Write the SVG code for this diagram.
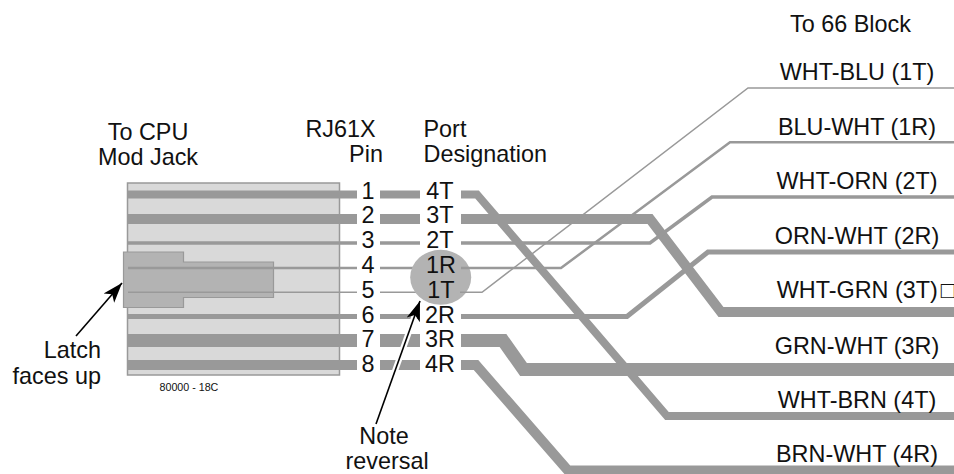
<svg xmlns="http://www.w3.org/2000/svg" width="954" height="474" viewBox="0 0 954 474">
<style>
text{font-family:"Liberation Sans",Arial,sans-serif;font-size:23.4px;fill:#111}
.m{text-anchor:middle}
.w{fill:none;stroke:#999;stroke-linejoin:miter}
</style>
<defs>
<marker id="ah" markerUnits="userSpaceOnUse" markerWidth="22" markerHeight="20" refX="20" refY="9" orient="auto"><path d="M0 2L20 9L0 16L5 9Z" fill="#000"/></marker>
</defs>
<rect width="954" height="474" fill="#fff"/>
<g id="jack">
<rect x="127.5" y="183" width="212" height="192" fill="#d9d9d9" stroke="#999" stroke-width="1.5"/>
<path d="M123.5 252H183.5V262H273.5V297.5H183.5V307.5H123.5Z" fill="#b3b3b3" stroke="#999" stroke-width="1.2"/>
<text x="159.5" y="391" style="font-size:10.7px">80000 - 18C</text>
</g>
<g id="connectors">
<path class="w" stroke-width="8" d="M128 194.5H357M380 194.5H420M461 194.5H477L667 416H954"/>
<path class="w" stroke-width="10" d="M128 219H357M380 219H420M461 219H650L721 312H954"/>
<path class="w" stroke-width="3.5" d="M128 243H357M380 243H420M461 243H650L712 197H954"/>
<path class="w" stroke-width="2.5" d="M128 268H357M380 268H420"/>
<path class="w" stroke-width="1.5" d="M128 292.3H357M380 292.3H420"/>
<path class="w" stroke-width="5" d="M128 316.5H357M380 316.5H420M461 316.5H627L708 252H954"/>
<path class="w" stroke-width="13" d="M128 340.5H357M380 340.5H420M461 340.5H503L523.5 369.5H954"/>
<path class="w" stroke-width="10" d="M128 365H357M380 365H420M461 365H476L568 470.5H954"/>
</g>
<g id="port-highlight">
<ellipse cx="440.7" cy="277.3" rx="30.5" ry="27.5" fill="#b3b3b3"/>
</g>
<g id="connectors-reversal">
<path class="w" stroke-width="2.5" d="M461 268H561L730 142.3H954"/>
<path class="w" stroke-width="1.5" d="M460 292.3H482L748 88H954"/>
</g>
<g id="callouts">
<path d="M376 424L420 301" fill="none" stroke="#fff" stroke-width="6"/>
<path d="M376 424L420 301" fill="none" stroke="#000" stroke-width="1.6" marker-end="url(#ah)"/>
<path d="M76 336L122 283" fill="none" stroke="#000" stroke-width="1.6" marker-end="url(#ah)"/>
</g>
<g id="pins">
<text class="m" x="368" y="198.5">1</text><text class="m" x="368" y="223">2</text><text class="m" x="368" y="248">3</text><text class="m" x="368" y="273">4</text><text class="m" x="368" y="298">5</text><text class="m" x="368" y="322.5">6</text><text class="m" x="368" y="347">7</text><text class="m" x="368" y="371.5">8</text>
</g>
<g id="ports">
<text class="m" x="440" y="198.5">4T</text><text class="m" x="440" y="223">3T</text><text class="m" x="440" y="248">2T</text><text class="m" x="441" y="273">1R</text><text class="m" x="441" y="298">1T</text><text class="m" x="440" y="322.5">2R</text><text class="m" x="440" y="347">3R</text><text class="m" x="440" y="371.5">4R</text>
</g>
<g id="headings">
<text class="m" x="148" y="140">To CPU</text><text class="m" x="148" y="165">Mod Jack</text>
<text class="m" x="340.5" y="136.7">RJ61X</text><text class="m" x="366" y="161.7">Pin</text>
<text x="423.5" y="136.7">Port</text><text x="423.5" y="161.7">Designation</text>
<text x="790" y="31.7">To 66 Block</text>
<text style="text-anchor:end" x="101" y="358">Latch</text><text style="text-anchor:end" x="101" y="384">faces up</text>
<text class="m" x="384" y="443.5">Note</text><text class="m" x="387" y="468.8">reversal</text>
</g>
<g id="labels">
<text class="m" x="857" y="80">WHT-BLU (1T)</text>
<text class="m" x="857" y="135">BLU-WHT (1R)</text>
<text class="m" x="857" y="189.3">WHT-ORN (2T)</text>
<text class="m" x="857" y="244">ORN-WHT (2R)</text>
<text x="776.7" y="298.3">WHT-GRN (3T)<tspan dx="3">□</tspan></text>
<text class="m" x="857" y="354">GRN-WHT (3R)</text>
<text class="m" x="857" y="407.7">WHT-BRN (4T)</text>
<text class="m" x="857" y="461.7">BRN-WHT (4R)</text>
</g>
</svg>
